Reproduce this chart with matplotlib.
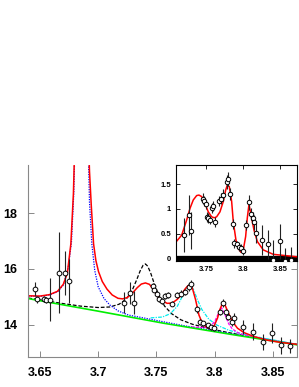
import matplotlib
matplotlib.use("Agg")
import matplotlib.pyplot as plt
import numpy as np

plt.rcParams['font.family'] = ['Liberation Sans', 'DejaVu Sans']
plt.rcParams['font.weight'] = 'bold'

# ---- main panel: data points (mass in GeV, events) ----
main_x = [3.6454, 3.6477, 3.6532, 3.6554, 3.6584, 3.6661, 3.6713, 3.6747,
          3.7218, 3.7270, 3.7304,
          3.7468, 3.7483, 3.7506, 3.7526, 3.7549, 3.7571, 3.7597, 3.7635,
          3.7678, 3.7707, 3.7741, 3.7779, 3.7799, 3.7845, 3.7873, 3.7899,
          3.7942, 3.7966, 3.7994, 3.8046, 3.8075, 3.8095, 3.8115, 3.8152,
          3.8167, 3.8247, 3.8325, 3.8411, 3.8489, 3.8569, 3.8649]
main_y = [15.30, 14.92, 14.92, 14.88, 14.90, 15.86, 15.86, 15.57,
          14.80, 15.14, 14.80,
          15.39, 15.26, 15.10, 14.91, 14.86, 15.04, 15.06, 14.76,
          15.06, 15.12, 15.18, 15.36, 15.45, 14.55, 14.11, 14.05,
          13.99, 13.91, 13.87, 14.46, 14.79, 14.46, 14.29, 14.11,
          14.23, 13.91, 13.75, 13.39, 13.71, 13.27, 13.24]
main_err = [0.25, 0.12, 0.10, 0.10, 0.76, 1.45, 0.80, 0.80,
            0.37, 0.40, 0.40,
            0.12, 0.10, 0.10, 0.10, 0.10, 0.10, 0.10, 0.10,
            0.10, 0.12, 0.12, 0.14, 0.14, 0.12, 0.10, 0.10,
            0.08, 0.08, 0.08, 0.10, 0.15, 0.12, 0.12, 0.15,
            0.20, 0.25, 0.30, 0.30, 0.35, 0.30, 0.25]

# ---- main panel: fit curves ----
bkg_x = [3.640, 3.700, 3.756, 3.814, 3.8716]
bkg_y = [14.94, 14.49, 14.06, 13.66, 13.28]

psi_x = [3.640, 3.650, 3.658, 3.665, 3.670, 3.674, 3.677, 3.679, 3.6805, 3.6857,
         3.691, 3.6925, 3.6945, 3.697, 3.700, 3.705, 3.710, 3.717, 3.726, 3.740,
         3.756, 3.775, 3.800, 3.830, 3.8716]
psi_y = [15.03, 15.02, 15.07, 15.18, 15.42, 15.98, 16.95, 18.7, 21.3, 40.0,
         21.0, 18.4, 16.9, 15.95, 15.36, 14.94, 14.71, 14.50, 14.35, 14.24,
         14.11, 13.96, 13.79, 13.57, 13.30]

bw1_x = [3.640, 3.655, 3.670, 3.685, 3.700, 3.710, 3.718, 3.724, 3.729, 3.733,
         3.736, 3.7385, 3.7405, 3.7425, 3.745, 3.748, 3.752, 3.757, 3.763, 3.771,
         3.781, 3.796, 3.811, 3.826, 3.845, 3.8716]
bw1_y = [14.96, 14.86, 14.76, 14.67, 14.62, 14.64, 14.74, 14.92, 15.22, 15.61,
         15.93, 16.13, 16.18, 16.10, 15.86, 15.49, 15.05, 14.67, 14.40, 14.18,
         14.02, 13.86, 13.73, 13.61, 13.48, 13.29]

bw2_x = [3.745, 3.755, 3.762, 3.768, 3.772, 3.775, 3.7785, 3.782, 3.785, 3.789,
         3.795, 3.802, 3.812, 3.825, 3.845, 3.8716]
bw2_y = [14.25, 14.28, 14.40, 14.67, 15.00, 15.29, 15.46, 15.25, 14.92, 14.55,
         14.20, 13.99, 13.81, 13.66, 13.50, 13.30]

bw3_x = [3.780, 3.785, 3.792, 3.797, 3.800, 3.803, 3.806, 3.809, 3.812, 3.815,
         3.820, 3.827, 3.840, 3.855, 3.8716]
bw3_y = [13.93, 13.91, 13.91, 13.98, 14.12, 14.39, 14.61, 14.35, 14.04, 13.86,
         13.72, 13.62, 13.51, 13.40, 13.29]

fit_x = [3.640, 3.650, 3.658, 3.665, 3.670, 3.6735, 3.6765, 3.6787, 3.6805, 3.6857,
         3.691, 3.6925, 3.694, 3.696, 3.698, 3.7003, 3.7035, 3.7075, 3.712, 3.717,
         3.721, 3.725, 3.729, 3.7335, 3.737, 3.7405, 3.744, 3.7477, 3.751, 3.7545,
         3.7592, 3.7635, 3.7678, 3.7715, 3.7745, 3.777, 3.7787, 3.7808, 3.7836, 3.7865,
         3.7895, 3.793, 3.7959, 3.7994, 3.8025, 3.8045, 3.8066, 3.8086, 3.8115, 3.8152,
         3.8196, 3.8253, 3.8339, 3.8454, 3.8569, 3.8716]
fit_y = [15.04, 15.03, 15.08, 15.20, 15.45, 15.85, 16.90, 18.70, 21.50, 40.0,
         21.50, 19.50, 18.30, 16.90, 16.30, 15.90, 15.55, 15.28, 15.07, 14.95,
         14.93, 14.98, 15.12, 15.33, 15.46, 15.50, 15.45, 15.25, 15.02, 14.87,
         14.77, 14.78, 14.91, 15.08, 15.28, 15.40, 15.43, 15.32, 14.90, 14.35,
         14.05, 13.92, 13.88, 13.95, 14.25, 14.55, 14.76, 14.74, 14.45, 14.12,
         13.88, 13.72, 13.58, 13.45, 13.37, 13.30]

# ---- inset: background subtracted ----
ins_x = [3.7203, 3.7270, 3.7293, 3.7464, 3.7477, 3.7496, 3.7518, 3.7531, 3.7550,
         3.7577, 3.7599, 3.7622, 3.7676, 3.7699, 3.7734, 3.7780, 3.7801, 3.7824,
         3.7860, 3.7878, 3.7915, 3.7950, 3.7969, 3.7996, 3.8036, 3.8081, 3.8104,
         3.8130, 3.8149, 3.8176, 3.8257, 3.8334, 3.8411, 3.8500, 3.8570, 3.8650]
ins_y = [0.47, 0.876, 0.56, 1.21, 1.16, 1.09, 0.84, 0.81, 0.775,
         1.02, 1.06, 0.74, 1.16, 1.21, 1.28, 1.55, 1.60, 1.31,
         0.69, 0.30, 0.28, 0.235, 0.20, 0.15, 0.67, 1.13, 0.89,
         0.81, 0.73, 0.51, 0.37, 0.28, -0.03, 0.34, -0.05, -0.03]
ins_err = [0.35, 0.40, 0.38, 0.12, 0.10, 0.10, 0.10, 0.10, 0.08,
           0.10, 0.10, 0.10, 0.10, 0.12, 0.12, 0.14, 0.14, 0.12,
           0.10, 0.10, 0.08, 0.08, 0.08, 0.08, 0.10, 0.15, 0.12,
           0.12, 0.15, 0.20, 0.30, 0.30, 0.40, 0.35, 0.25, 0.25]

ins_fit_x = [3.7095, 3.7172, 3.7239, 3.7284, 3.7328, 3.7374, 3.7405, 3.7442, 3.7486,
             3.7531, 3.7577, 3.7612, 3.7644, 3.7689, 3.7734, 3.7766, 3.7788, 3.7815,
             3.7847, 3.7869, 3.7905, 3.7936, 3.7973, 3.8004, 3.8036, 3.8058, 3.8081,
             3.8118, 3.8149, 3.8194, 3.8274, 3.8409, 3.8730]
ins_fit_y = [0.33, 0.47, 0.775, 1.01, 1.18, 1.27, 1.28, 1.25, 1.11,
             0.94, 0.84, 0.82, 0.84, 0.94, 1.15, 1.38, 1.48, 1.45,
             1.15, 0.74, 0.37, 0.20, 0.12, 0.17, 0.44, 0.81, 1.09,
             0.81, 0.57, 0.34, 0.17, 0.08, 0.03]

main_ticks = [3.65, 3.70, 3.75, 3.80, 3.85]
main_ticklabels = ["3.65", "3.7", "3.75", "3.8", "3.85"]
ins_xticks = [3.75, 3.80, 3.85]
ins_xticklabels = ["3.75", "3.8", "3.85"]
ins_yticks = [0, 0.5, 1, 1.5]
ins_yticklabels = ["0", "0.5", "1", "1.5"]

W, H = 299, 387
fig = plt.figure(figsize=(W / 100, H / 100), dpi=100)

# main frame
ax = fig.add_axes([28 / W, (H - 357) / H, (297 - 28) / W, (357 - 165) / H])
ax.plot(bw1_x, bw1_y, color="black", lw=0.9, ls=(0, (3, 1.5)))
ax.plot(psi_x, psi_y, color="#0000ff", lw=0.9, ls=(0, (1, 1)))
ax.plot(bw2_x, bw2_y, color="#00eeee", lw=0.9, ls=(0, (3, 1, 1, 1)))
ax.plot(bw3_x, bw3_y, color="#ff00ff", lw=0.9, ls=(0, (2.5, 1)))
ax.plot(bkg_x, bkg_y, color="#00ee00", lw=1.2)
ax.plot(fit_x, fit_y, color="#ff0000", lw=1.1)
ax.errorbar(main_x, main_y, yerr=main_err, fmt="o", ms=3.4, mfc="white",
            mec="black", mew=0.7, ecolor="#222222", elinewidth=0.8, capsize=0)
ax.set_xlim(3.6397, 3.8707)
ax.set_ylim(12.85, 19.72)
ax.set_xticks(main_ticks)
ax.set_xticklabels(main_ticklabels)
ax.set_yticks([14, 16, 18])
ax.set_yticklabels(["14", "16", "18"])
ax.tick_params(axis="both", direction="in", labelsize=9, color="#888888",
               length=4, width=0.7)
ax.tick_params(axis="x", pad=7)
ax.tick_params(axis="y", pad=8, right=True)
for s in ["left", "right", "bottom"]:
    ax.spines[s].set_color("#888888")
    ax.spines[s].set_linewidth(0.8)
ax.spines["top"].set_visible(False)

# inset frame
ins = fig.add_axes([176 / W, (H - 261) / H, (297 - 176) / W, (261 - 165) / H])
ins.set_facecolor("white")
ins.axhline(0, color="black", lw=3.8, zorder=1)
ins.plot(ins_fit_x, ins_fit_y, color="#ff0000", lw=1.1, zorder=2)
ins.errorbar(ins_x, ins_y, yerr=ins_err, fmt="o", ms=3.2, mfc="white",
             mec="black", mew=0.7, ecolor="#222222", elinewidth=0.8, capsize=0,
             zorder=3)
ins.set_xlim(3.7095, 3.8730)
ins.set_ylim(-0.055, 1.889)
ins.set_xticks(ins_xticks)
ins.set_xticklabels(ins_xticklabels)
ins.set_yticks(ins_yticks)
ins.set_yticklabels(ins_yticklabels)
ins.tick_params(axis="both", direction="in", labelsize=5.5, length=3,
                width=0.6, top=True, right=True)
ins.tick_params(axis="x", pad=3.5)
ins.tick_params(axis="y", pad=3.5)
for s in ins.spines.values():
    s.set_linewidth(0.8)

fig.savefig("out.png", dpi=100)
